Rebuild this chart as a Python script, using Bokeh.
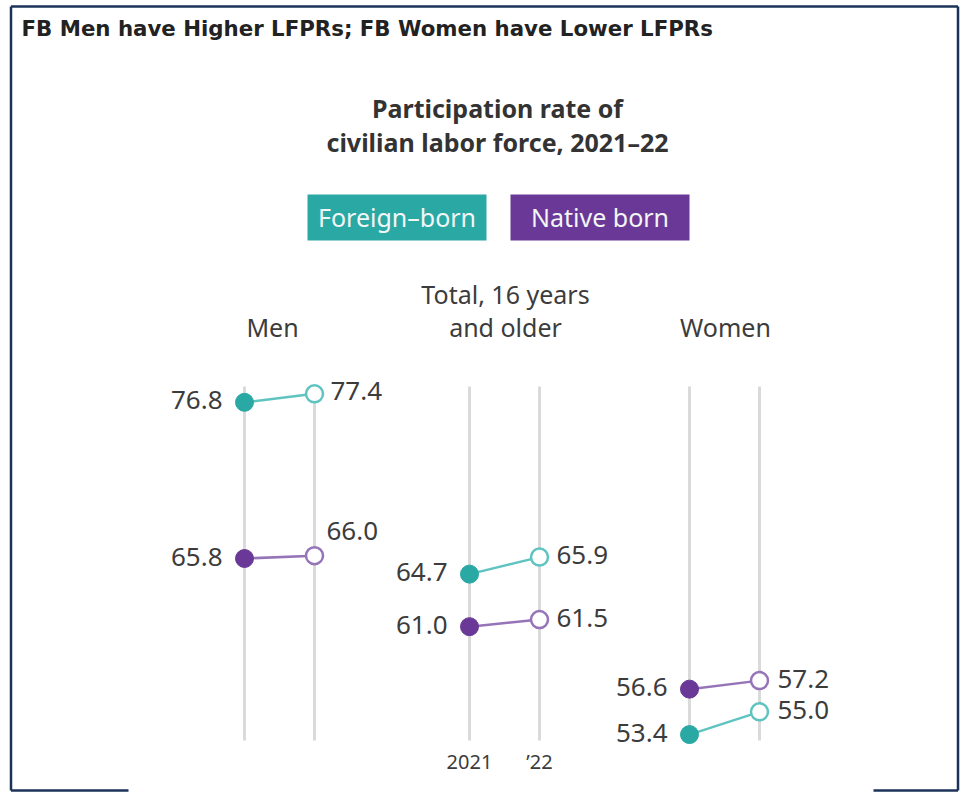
from bokeh.plotting import figure
from bokeh.models import Range1d, ColumnDataSource
from bokeh.core.properties import value
from bokeh.embed import file_html
from bokeh.resources import INLINE

# ---- data: labor force participation rate (%) ----
panels = ["Men", "Total, 16 years\nand older", "Women"]
years = ["2021", "\u201922"]
foreign_2021 = [76.8, 64.7, 53.4]
foreign_2022 = [77.4, 65.9, 55.0]
native_2021 = [65.8, 61.0, 56.6]
native_2022 = [66.0, 61.5, 57.2]

# ---- layout / style ----
W, H = 960, 793
PANEL_X = [244, 469, 689]      # x of the 2021 column in each panel
YEAR_GAP = 70                  # distance to the '22 column
HEADER_X = [272, 505, 725]
VAL_TOP, VAL_BOTTOM = 105.1, 49.25   # value scale spanning the canvas height

TEAL = "#2aa8a4"
TEAL_LINE = "#5fc4c0"
PURPLE = "#6a3897"
PURPLE_LINE = "#9574b8"
GRID = "#dadada"
INK = "#3c3c3c"
NAVY = "#1b3358"
FONT = value("Noto Sans")

p = figure(width=W, height=H, x_range=Range1d(0, W),
           y_range=Range1d(VAL_BOTTOM, VAL_TOP),
           output_backend="svg", toolbar_location=None, min_border=0)
p.extra_y_ranges = {"px": Range1d(H, 0)}
p.axis.visible = False
p.grid.visible = False
p.outline_line_color = None
p.background_fill_color = "white"
p.border_fill_color = "white"

# frame around the graphic
p.segment(x0=[10.5, 10.5, 957.5, 10.5, 873], y0=[6, 6, 6, 790, 790],
          x1=[957.5, 10.5, 957.5, 128, 957.5], y1=[6, 790, 790, 790, 790],
          line_color=NAVY, line_width=2.5, y_range_name="px")

# headline
p.text(x=[21], y=[28], text=["FB Men have Higher LFPRs; FB Women have Lower LFPRs"],
       text_font=value("DejaVu Sans"), text_font_style="bold", text_font_size="21.3px",
       text_color="#222222", text_align="left", text_baseline="alphabetic",
       y_range_name="px")

# chart title
p.text(x=[497, 497], y=[107, 141],
       text=["Participation rate of", "civilian labor force, 2021\u201322"],
       text_font=FONT, text_font_style="bold", text_font_size="25px",
       text_color="#333333", text_align="center", text_baseline="alphabetic",
       y_range_name="px")

# legend chips
p.quad(left=[307, 510], right=[486, 689], top=[194, 194], bottom=[240, 240],
       fill_color=[TEAL, PURPLE], line_color=None, y_range_name="px")
p.text(x=[396.5, 599.5], y=[216.5, 216.5], text=["Foreign\u2013born", "Native born"],
       text_font=FONT, text_font_size="25px", text_color="#f2f6f6",
       text_align="center", text_baseline="alphabetic", y_range_name="px")

# panel headers
hx, hy, ht = [], [], []
for cx, name in zip(HEADER_X, panels):
    lines = name.split("\n")
    base = 326 - 33 * (len(lines) - 1)
    for k, line in enumerate(lines):
        hx.append(cx)
        hy.append(base + 33 * k)
        ht.append(line)
p.text(x=hx, y=hy, text=ht, text_font=FONT, text_font_size="25px",
       text_color=INK, text_align="center", text_baseline="alphabetic",
       y_range_name="px")

# vertical guides for each year column
gx = [x + d for x in PANEL_X for d in (0, YEAR_GAP)]
p.segment(x0=gx, y0=[386] * len(gx), x1=gx, y1=[740] * len(gx),
          line_color=GRID, line_width=3, y_range_name="px")

# year labels under the middle panel
p.text(x=[PANEL_X[1], PANEL_X[1] + YEAR_GAP], y=[761, 761], text=years,
       text_font=FONT, text_font_size="20px", text_color=INK,
       text_align="center", text_baseline="alphabetic", y_range_name="px")

x0 = PANEL_X
x1 = [x + YEAR_GAP for x in PANEL_X]

for v0, v1, dark, light in ((foreign_2021, foreign_2022, TEAL, TEAL_LINE),
                            (native_2021, native_2022, PURPLE, PURPLE_LINE)):
    p.segment(x0=x0, y0=v0, x1=x1, y1=v1, line_color=light, line_width=2.5)
    p.scatter(x=x0, y=v0, size=18, fill_color=dark, line_color=dark)
    p.scatter(x=x1, y=v1, size=17, fill_color="white", line_color=light,
              line_width=2.5)

# value labels, 2021 side
left_src = ColumnDataSource(dict(
    x=x0 + x0, y=foreign_2021 + native_2021,
    t=[f"{v:.1f}" for v in foreign_2021 + native_2021]))
p.text(x="x", y="y", text="t", source=left_src, x_offset=-22, y_offset=-2,
       text_font=FONT, text_font_size="26px", text_color=INK,
       text_align="right", text_baseline="middle")

# value labels, '22 side (the men's native-born value sits above its dot)
rx = x1 + x1
ry = foreign_2022 + native_2022
rt = [f"{v:.1f}" for v in ry]
dx = [16, 17, 18, 12, 17, 18]
dy = [-3, -2, -2, -25, -2, -2]
right_src = ColumnDataSource(dict(x=rx, y=ry, t=rt, dx=dx, dy=dy))
p.text(x="x", y="y", text="t", source=right_src, x_offset="dx", y_offset="dy",
       text_font=FONT, text_font_size="26px", text_color=INK,
       text_align="left", text_baseline="middle")

open("out.html", "w").write(file_html(p, INLINE))
